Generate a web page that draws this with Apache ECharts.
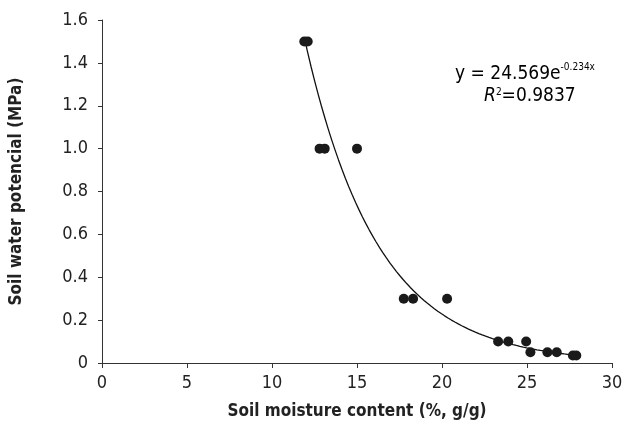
<!DOCTYPE html>
<html>
<head>
<meta charset="utf-8">
<script src="https://cdn.jsdelivr.net/npm/echarts@6/dist/echarts.min.js"></script>
<style>
html, body { margin: 0; padding: 0; background: #fff; }
#main { width: 633px; height: 425px; }
</style>
</head>
<body>
<div id="main"></div>
<script>
// measured points (moisture %, potential MPa)
var moisture = [11.9, 12.1, 12.8, 13.1, 15.0, 17.75, 18.3, 20.3, 23.3, 23.9, 24.95, 25.2, 26.2, 26.75, 27.7, 27.9];
var potential = [1.5, 1.5, 1.0, 1.0, 1.0, 0.3, 0.3, 0.3, 0.1, 0.1, 0.1, 0.05, 0.05, 0.05, 0.035, 0.035];

// exponential trendline y = a * e^(b x)
var fitA = 24.569;
var fitB = -0.234;
var fitFrom = 11.9, fitTo = 28;

var xTicks = [0, 5, 10, 15, 20, 25, 30];
var yTicks = [0, 0.2, 0.4, 0.6, 0.8, 1.0, 1.2, 1.4, 1.6];

var pts = [];
for (var i = 0; i < moisture.length; i++) {
    pts.push([moisture[i], potential[i]]);
}
var curve = [];
for (var k = 0; k <= 80; k++) {
    var x = fitFrom + (fitTo - fitFrom) * k / 80;
    curve.push([x, fitA * Math.exp(fitB * x)]);
}

var fnt = '"DejaVu Sans Condensed", "Liberation Sans Narrow", Arial, sans-serif';
var chart = echarts.init(document.getElementById('main'));

var option = {
    backgroundColor: '#fff',
    animation: false,
    grid: { left: 102, right: 21, top: 20, bottom: 62 },
    xAxis: {
        type: 'value',
        min: xTicks[0], max: xTicks[xTicks.length - 1], interval: 5,
        name: 'Soil moisture content (%, g/g)',
        nameLocation: 'middle', nameGap: 40,
        nameTextStyle: { fontFamily: fnt, fontSize: 17, fontWeight: 'bold', color: '#222' },
        axisLine: { lineStyle: { color: '#333', width: 1 } },
        axisTick: { show: true, length: 5, lineStyle: { color: '#333' } },
        axisLabel: { fontFamily: fnt, fontSize: 18, color: '#222', margin: 11 },
        splitLine: { show: false }
    },
    yAxis: {
        type: 'value',
        min: yTicks[0], max: yTicks[yTicks.length - 1], interval: 0.2,
        name: 'Soil water potencial (MPa)',
        nameLocation: 'middle', nameGap: 77,
        nameTextStyle: { fontFamily: fnt, fontSize: 17, fontWeight: 'bold', color: '#222' },
        axisLine: { show: true, lineStyle: { color: '#333', width: 1 } },
        axisTick: { show: true, length: 4, lineStyle: { color: '#333' } },
        axisLabel: {
            fontFamily: fnt, fontSize: 18, color: '#222', margin: 14,
            formatter: function (v) { return v === 0 ? '0' : v.toFixed(1); }
        },
        splitLine: { show: false }
    },
    graphic: [{
        type: 'text',
        left: 455, top: 62,
        style: {
            text: '{b|y = 24.569e}{s|-0.234x}',
            rich: {
                b: { fontFamily: fnt, fontSize: 19, color: '#222', verticalAlign: 'bottom', lineHeight: 22 },
                s: { fontFamily: fnt, fontSize: 10, color: '#222', verticalAlign: 'top', lineHeight: 22, padding: [0, 0, 8, 0] }
            }
        }
    }, {
        type: 'text',
        left: 484, top: 87,
        style: {
            text: '{i|R}{s|2}{b|=0.9837}',
            rich: {
                i: { fontFamily: fnt, fontSize: 19, fontStyle: 'italic', color: '#222', lineHeight: 22 },
                s: { fontFamily: fnt, fontSize: 10, color: '#222', lineHeight: 22, padding: [0, 0, 8, 0] },
                b: { fontFamily: fnt, fontSize: 19, color: '#222', lineHeight: 22 }
            }
        }
    }],
    series: [{
        type: 'line',
        data: curve,
        showSymbol: false,
        smooth: false,
        lineStyle: { color: '#111', width: 1.3 },
        z: 2
    }, {
        type: 'scatter',
        data: pts,
        symbol: 'circle',
        symbolSize: 10,
        itemStyle: { color: '#1a1a1a', opacity: 1 },
        z: 3
    }]
};

chart.setOption(option);
</script>
</body>
</html>
